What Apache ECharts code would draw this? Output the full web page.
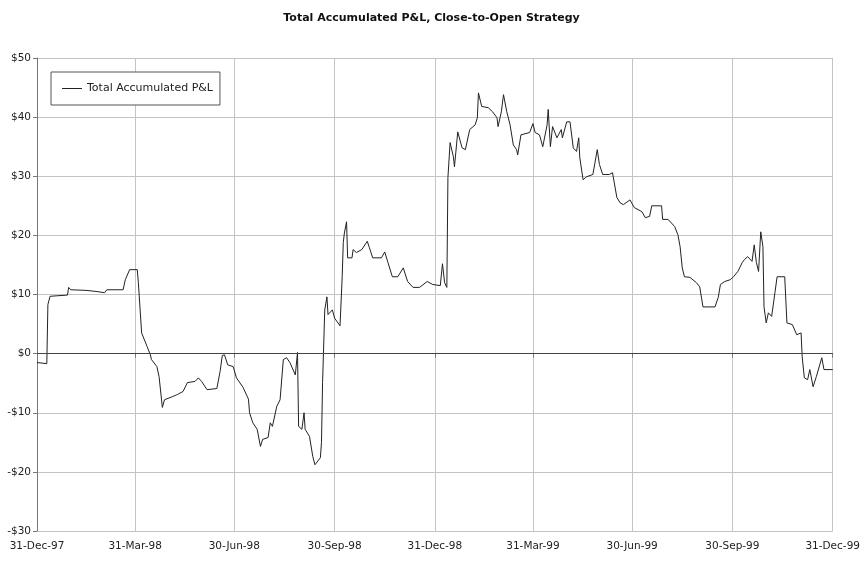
<!DOCTYPE html>
<html>
<head>
<meta charset="utf-8">
<title>Total Accumulated P&amp;L</title>
<script src="https://cdn.jsdelivr.net/npm/echarts@6/dist/echarts.min.js"></script>
<style>
  html, body { margin: 0; padding: 0; background: #fff; }
  #chart { width: 863px; height: 564px; }
</style>
</head>
<body>
<div id="chart"></div>
<script>
// x = days after 31-Dec-97
const tickDays = [0, 90, 181, 273, 365, 455, 546, 638, 730];
const tickLabels = ['31-Dec-97', '31-Mar-98', '30-Jun-98', '30-Sep-98', '31-Dec-98',
    '31-Mar-99', '30-Jun-99', '30-Sep-99', '31-Dec-99'];

const days = [
    0, 9, 10, 12, 28, 29, 31, 45, 55, 62, 63, 64, 79, 81, 85, 92, 93, 96, 101, 104,
    105, 110, 112, 115, 117, 124, 129, 134, 138, 145, 148, 151, 156, 165, 168, 170, 172, 175, 180, 183,
    189, 194, 195, 198, 202, 205, 207, 212, 214, 216, 220, 223, 226, 229, 232, 237, 239, 240, 243, 245,
    246, 250, 253, 255, 260, 261, 262, 264, 266, 267, 271, 273, 278, 280, 281, 282, 284, 285, 289, 290,
    293, 298, 303, 305, 308, 316, 319, 322, 326, 331, 336, 340, 345, 351, 358, 363, 370, 372, 374, 376,
    377, 379, 382, 383, 386, 390, 393, 397, 402, 404, 405, 408, 414, 418, 422, 423, 426, 428, 431, 434,
    437, 440, 441, 444, 452, 455, 457, 461, 464, 468, 469, 471, 473, 477, 481, 482, 486, 489, 492, 495,
    497, 498, 501, 504, 510, 514, 516, 519, 525, 528, 532, 535, 538, 544, 548, 555, 558, 562, 564, 573,
    574, 579, 585, 588, 590, 592, 594, 599, 605, 608, 611, 622, 625, 627, 631, 636, 639, 643, 647, 649,
    652, 656, 658, 660, 662, 664, 666, 667, 669, 671, 674, 677, 679, 686, 688, 693, 697, 701, 702, 704,
    707, 709, 712, 715, 720, 722, 730
];
const pnl = [
    -1.5, -1.7, 8.3, 9.7, 9.9, 11.2, 10.8, 10.7, 10.5, 10.3, 10.1, 10.8, 10.8, 12.5, 14.2, 14.2, 12, 3.5, 1.2, -0.2,
    -1, -2.2, -3.9, -9.1, -7.8, -7.3, -6.9, -6.4, -4.9, -4.7, -4.1, -4.7, -6.1, -5.9, -3, -0.3, -0.2, -1.9, -2.2, -4.1,
    -5.7, -7.7, -10, -11.7, -12.8, -15.7, -14.5, -14.2, -11.7, -12.3, -8.9, -7.8, -1, -0.7, -1.5, -3.6, 0.2, -12.3, -12.8, -10,
    -12.8, -14, -17.4, -18.8, -17.6, -15, -4.9, 7.4, 9.6, 6.6, 7.4, 6, 4.7, 13, 18.8, 20.4, 22.3, 16.2, 16.2, 17.6,
    17.1, 17.6, 19, 17.9, 16.2, 16.2, 17.2, 15.4, 13, 13, 14.5, 12.2, 11.2, 11.2, 12.2, 11.7, 11.5, 15.2, 12, 11.2,
    29.8, 35.7, 33.3, 31.6, 37.5, 34.8, 34.5, 37.9, 38.7, 39.9, 44.1, 41.8, 41.6, 40.9, 39.9, 38.4, 40.9, 43.8, 40.9, 38.7,
    35.3, 34.5, 33.6, 37, 37.4, 38.9, 37.4, 37, 35, 38.7, 41.3, 35, 38.4, 36.5, 37.9, 36.5, 39.2, 39.2, 34.8, 34.2,
    36.5, 33.1, 29.4, 29.9, 30.3, 34.5, 32, 30.3, 30.3, 30.6, 26.4, 25.5, 25.2, 26, 24.7, 24, 23, 23.2, 25, 25,
    22.7, 22.7, 21.5, 20.1, 18.1, 14.5, 13, 12.9, 12, 11.3, 7.9, 7.9, 9.5, 11.7, 12.2, 12.5, 13, 13.9, 15.4, 15.9,
    16.4, 15.6, 18.4, 15.4, 13.9, 20.6, 18.1, 7.9, 5.2, 6.9, 6.3, 10.3, 13, 13, 5.2, 4.9, 3.2, 3.5, -0.5, -4.1,
    -4.4, -2.7, -5.6, -3.9, -0.7, -2.7, -2.7
];

const chart = echarts.init(document.getElementById('chart'));
const font = 'DejaVu Sans';

const option = {
    animation: false,
    backgroundColor: '#fff',
    title: {
        text: 'Total Accumulated P&L, Close-to-Open Strategy',
        left: 'center',
        top: 8,
        textStyle: {fontFamily: font, fontSize: 11, fontWeight: 'bold', color: '#111'}
    },
    legend: {
        left: 51,
        top: 72,
        orient: 'vertical',
        padding: [11, 7, 11, 11],
        borderColor: '#555',
        borderWidth: 1,
        backgroundColor: '#fff',
        icon: 'rect',
        itemWidth: 20,
        itemHeight: 1,
        textStyle: {fontFamily: font, fontSize: 11, color: '#222'},
        data: ['Total Accumulated P&L']
    },
    grid: {left: 37, right: 30, top: 58, bottom: 33},
    xAxis: {
        type: 'value',
        min: 0,
        max: 730,
        axisLine: {lineStyle: {color: '#777', width: 1}},
        axisTick: {show: true, length: 4, customValues: tickDays, lineStyle: {color: '#777'}},
        axisLabel: {
            customValues: tickDays,
            fontFamily: font, fontSize: 10.5, color: '#222', margin: 10,
            formatter: v => tickLabels[tickDays.indexOf(v)] || ''
        },
        splitLine: {show: true, lineStyle: {color: '#c4c4c4', width: 1}}
    },
    yAxis: {
        type: 'value',
        min: -30,
        max: 50,
        interval: 10,
        axisLine: {show: true, lineStyle: {color: '#777', width: 1}},
        axisTick: {show: true, length: 4, lineStyle: {color: '#777'}},
        axisLabel: {
            fontFamily: font, fontSize: 10.5, color: '#222', margin: 6,
            formatter: v => (v < 0 ? '-$' + (-v) : '$' + v)
        },
        splitLine: {show: true, lineStyle: {color: '#c4c4c4', width: 1}}
    },
    series: [{
        name: 'Total Accumulated P&L',
        type: 'line',
        symbol: 'none',
        data: days.map((d, i) => [d, pnl[i]]),
        lineStyle: {color: '#222', width: 1},
        itemStyle: {color: '#222'},
        markLine: {
            silent: true,
            symbol: 'none',
            label: {show: false},
            lineStyle: {color: '#444', width: 1, type: 'solid'},
            data: [{yAxis: 0}]
        }
    }]
};

chart.setOption(option);
</script>
</body>
</html>
